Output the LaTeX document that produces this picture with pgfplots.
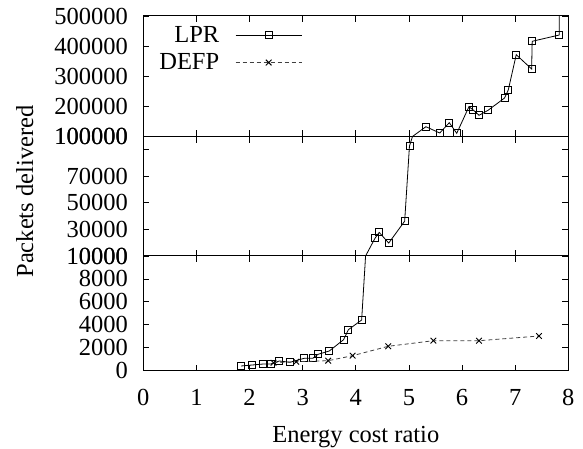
\documentclass[border=0pt]{standalone}
\usepackage{fontspec}
\setmainfont{Liberation Serif}
\usepackage{pgfplots}
\usepackage{pgfplotstable}
\pgfplotsset{compat=1.18}
\newcommand\f{\fontsize{24.5}{29}\selectfont}

\pgfplotstableread{
x y
1.84 410
2.05 497
2.26 584
2.40 584
2.56 846
2.76 732
3.03 1081
3.19 1081
3.29 1430
3.50 1717
3.77 2703
3.86 3574
4.11 4420
4.36 23275
4.44 27775
4.62 19750
4.92 36250
5.01 92725
5.32 132500
5.58 111600
5.76 145800
5.90 110600
6.13 198900
6.21 188000
6.32 170400
6.49 187000
6.80 227800
6.87 254300
7.02 371500
7.31 324000
7.32 416000
7.83 436900
7.84 900000
}\lpr

\pgfplotstableread{
x y
2.45 697
2.88 785
3.48 872
3.94 1308
4.61 2127
5.46 2615
6.32 2615
7.45 3025
}\defp

\pgfplotsset{
  brk/.style={
    scale only axis, width=425pt, xmin=0, xmax=8,
    axis line style={line width=1pt},
    tick align=inside, tick pos=both, major tick length=6pt,
    every tick/.style={black, line width=0.8pt},
    xtick={0,1,2,3,4,5,6,7,8},
    clip marker paths=true,
    tick label style={font=\f, inner sep=0pt},
    yticklabel style={xshift=-15.3pt},
    xticklabel style={yshift=-18.6pt},
    scaled ticks=false,
  },
  lprstyle/.style={black, line width=0.8pt, mark=square, mark size=3.5pt, mark options={solid, line width=0.8pt}},
  defpstyle/.style={black!75, line width=0.8pt, dash pattern=on 4pt off 3pt, mark=x, mark size=4pt, mark options={solid, line width=0.9pt, black}},
}

\begin{document}
\begin{tikzpicture}
\useasboundingbox (-143.3pt,-78.3pt) rectangle (439.7pt,370.7pt);
% bottom panel
\begin{axis}[brk, at={(0pt,0pt)}, anchor=south west, height=114.7pt,
  ymin=0, ymax=10000,
  ytick={0,2000,4000,6000,8000,10000},
  yticklabels={0,2000,4000,6000,8000,10000},
  xticklabels={0,1,2,3,4,5,6,7,8},
  xlabel={Energy cost ratio}, ylabel={Packets delivered},
  every axis x label/.style={at={(axis description cs:0.5,-0.6269)}, anchor=base, font=\f},
  every axis y label/.style={at={(axis description cs:-0.2595,1.5623)}, anchor=base, rotate=90, font=\f},
]
\addplot[lprstyle] table {\lpr};
\addplot[defpstyle] table {\defp};
\end{axis}
% middle panel
\begin{axis}[brk, at={(0pt,114.7pt)}, anchor=south west, height=119.5pt,
  ymin=10000, ymax=100000,
  ytick={10000,30000,50000,70000,90000,100000},
  yticklabels={10000,30000,50000,70000,{},100000},
  xticklabels={},
]
\addplot[lprstyle] table {\lpr};
\addplot[defpstyle] table {\defp};
\end{axis}
% top panel
\begin{axis}[brk, at={(0pt,234.2pt)}, anchor=south west, height=120.5pt,
  ymin=100000, ymax=500000,
  ytick={100000,200000,300000,400000,500000},
  yticklabels={100000,200000,300000,400000,500000},
  xticklabels={},
  legend style={draw=none, fill=none, at={(axis description cs:0.374,0.917)}, anchor=north east,
    inner sep=0pt, column sep=16pt, row sep=10pt, font=\f, nodes={inner sep=0pt},
    cells={anchor=east}},
  legend plot pos=right,
  legend image code/.code={\draw[mark repeat=2,mark phase=2,#1] plot coordinates {(0pt,0pt) (33pt,0pt) (66pt,0pt)};},
]
\addplot[lprstyle] table {\lpr};
\addlegendentry{LPR}
\addplot[defpstyle] table {\defp};
\addlegendentry{DEFP}
\end{axis}
\end{tikzpicture}
\end{document}
